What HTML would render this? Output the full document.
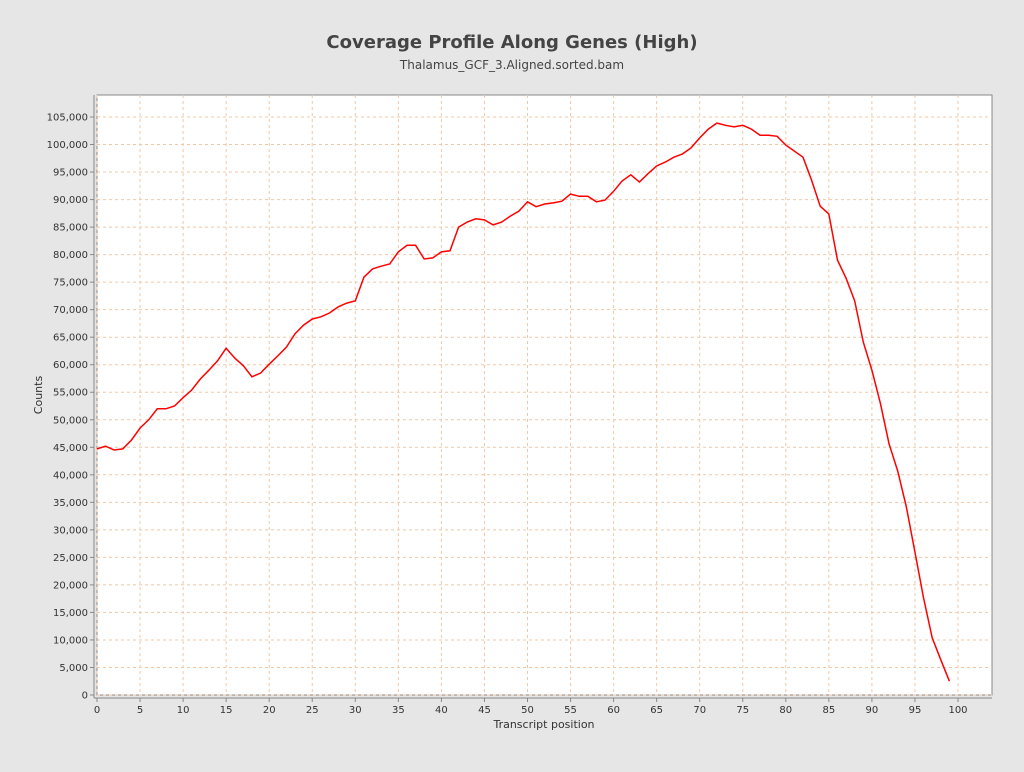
<!DOCTYPE html>
<html><head><meta charset="utf-8"><style>
body{margin:0;background:#e6e6e6;font-family:"DejaVu Sans",sans-serif;}
</style></head><body>
<svg width="1024" height="768" xmlns="http://www.w3.org/2000/svg" font-family="DejaVu Sans, sans-serif">
<rect width="1024" height="768" fill="#e6e6e6"/>
<text x="512" y="48" text-anchor="middle" font-size="18" font-weight="bold" fill="#444">Coverage Profile Along Genes (High)</text>
<text x="512" y="69" text-anchor="middle" font-size="12" fill="#444">Thalamus_GCF_3.Aligned.sorted.bam</text>
<rect x="97" y="95" width="895" height="600" fill="#fff" stroke="#888"/>
<g id="grid"></g>
<line x1="94" y1="95" x2="94" y2="698" stroke="#888"/>
<line x1="94" y1="698" x2="992" y2="698" stroke="#888"/>
<g id="axes" font-size="10" fill="#333"></g>
<text x="544" y="728" text-anchor="middle" font-size="11" fill="#333">Transcript position</text>
<text transform="translate(42,395) rotate(-90)" text-anchor="middle" font-size="11" fill="#333">Counts</text>
<path id="line" fill="none" stroke="#f00" stroke-width="1.5"/>
</svg>
<script>
const yTicks=[0,5000,10000,15000,20000,25000,30000,35000,40000,45000,50000,55000,60000,65000,70000,75000,80000,85000,90000,95000,100000,105000];
const xTicks=[0,5,10,15,20,25,30,35,40,45,50,55,60,65,70,75,80,85,90,95,100];
const positions=[];for(let i=0;i<100;i++)positions.push(i);
const counts=[44700,45200,44500,44700,46300,48500,50000,52000,52000,52500,54000,55400,57400,59000,60700,63000,61200,59800,57800,58500,60100,61600,63200,65600,67200,68300,68700,69400,70500,71200,71600,75900,77400,77900,78300,80500,81700,81700,79200,79400,80500,80700,85000,85900,86500,86300,85400,85900,87000,87900,89600,88700,89200,89400,89700,91000,90600,90600,89600,89900,91500,93400,94500,93200,94700,96100,96800,97700,98300,99400,101200,102800,103900,103500,103200,103500,102800,101700,101700,101500,99900,98800,97700,93500,88800,87400,79000,75700,71600,64100,59000,52900,45600,40700,34200,26000,17600,10400,6400,2500];
const NS='http://www.w3.org/2000/svg';
const X=v=>97+v*8.61, Y=v=>695-v*578/105000;
const grid=document.getElementById('grid'),axes=document.getElementById('axes');
function mk(tag,attrs,parent){const e=document.createElementNS(NS,tag);for(const k in attrs)e.setAttribute(k,attrs[k]);parent.appendChild(e);return e;}
yTicks.forEach(t=>{
  const g=mk('line',{x1:97,x2:992,y1:Y(t),y2:Y(t),stroke:'#f0c8a8','stroke-dasharray':'3,3'},grid);
  
  
  mk('line',{x1:90,x2:94,y1:Y(t),y2:Y(t),stroke:'#888'},axes);
  const l=mk('text',{x:88,y:Y(t)+3.5,'text-anchor':'end'},axes);l.textContent=t.toLocaleString('en-US');
  
  
});
xTicks.forEach(t=>{
  const g=mk('line',{y1:95,y2:695,x1:X(t),x2:X(t),stroke:'#f0c8a8','stroke-dasharray':'3,3'},grid);
  
  
  mk('line',{y1:698,y2:702,x1:X(t),x2:X(t),stroke:'#888'},axes);
  const l=mk('text',{x:X(t),y:713,'text-anchor':'middle'},axes);l.textContent=t;
  
  
});
document.getElementById('line').setAttribute('d',counts.map((c,i)=>(i?'L':'M')+X(positions[i]).toFixed(1)+','+Y(c).toFixed(1)).join(''));
</script>
</body></html>
